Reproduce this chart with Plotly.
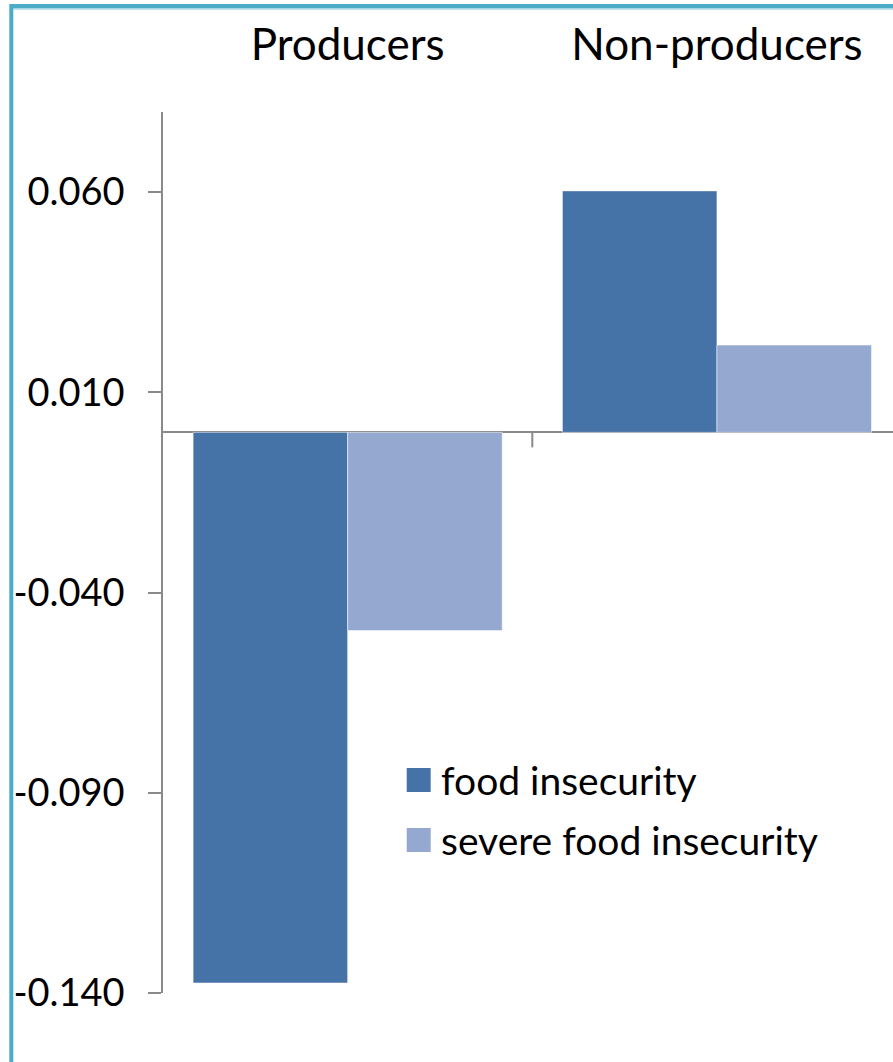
import plotly.graph_objects as go

# Chart data
groups = ["Producers", "Non-producers"]
food_insecurity = [-0.1375, 0.0603]
severe_food_insecurity = [-0.0495, 0.0218]
series_names = ["food insecurity", "severe food insecurity"]
y_tick_values = [-0.14, -0.09, -0.04, 0.01, 0.06]
y_tick_labels = ["-0.140", "-0.090", "-0.040", "0.010", "0.060"]

# Styling
DARK = "#4673A7"
LIGHT = "#95A9D0"
AXIS = "#8A8A8A"
FRAME = "#4BACC6"
FONT = "Lato"

W, H = 893, 1062
ML, MR, MT, MB = 163, 0, 112, 69
PW, PH = W - ML - MR, H - MT - MB


def px_x(px):
    return (px - ML) / PW


def px_y(py):
    return (H - MB - py) / PH


fig = go.Figure()
fig.add_trace(go.Bar(x=groups, y=food_insecurity, name=series_names[0],
                     marker=dict(color=DARK, line=dict(color="rgba(255,255,255,0.5)", width=1)),
                     showlegend=False))
fig.add_trace(go.Bar(x=groups, y=severe_food_insecurity, name=series_names[1],
                     marker=dict(color=LIGHT, line=dict(color="rgba(255,255,255,0.5)", width=1)),
                     showlegend=False))

shapes = []
# category divider tick below the zero line
shapes.append(dict(type="line", xref="x", yref="y", x0=0.5, x1=0.5,
                   ysizemode="pixel", yanchor=0, y0=0, y1=-15,
                   line=dict(color=AXIS, width=2)))
# outer frame (top and left edges)
shapes.append(dict(type="line", xref="paper", yref="paper",
                   x0=px_x(11.3), x1=px_x(W + 20), y0=px_y(6.3), y1=px_y(6.3),
                   line=dict(color=FRAME, width=4.5)))
shapes.append(dict(type="line", xref="paper", yref="paper",
                   x0=px_x(13.5), x1=px_x(W + 20), y0=px_y(9.5), y1=px_y(9.5),
                   line=dict(color="#BFE3EE", width=1.2)))
shapes.append(dict(type="line", xref="paper", yref="paper",
                   x0=px_x(11.3), x1=px_x(11.3), y0=px_y(4), y1=px_y(H + 20),
                   line=dict(color=FRAME, width=4)))

# legend keys
annotations = []
legend_rows = [(780, DARK), (840, LIGHT)]
for (cy, col), name in zip(legend_rows, series_names):
    shapes.append(dict(type="rect", xref="paper", yref="paper",
                       x0=px_x(406.7), x1=px_x(430.7), y0=px_y(cy - 12), y1=px_y(cy + 12),
                       fillcolor=col, line=dict(width=0)))
    annotations.append(dict(xref="paper", yref="paper", x=px_x(439), y=px_y(cy),
                            xanchor="left", yanchor="middle", showarrow=False,
                            text=name, font=dict(family=FONT, size=39, color="black")))

fig.update_layout(
    width=W, height=H,
    margin=dict(l=ML, r=MR, t=MT, b=MB, pad=0),
    paper_bgcolor="white", plot_bgcolor="white",
    barmode="group", bargap=0.163, bargroupgap=0,
    font=dict(family=FONT, color="black"),
    shapes=shapes, annotations=annotations,
    showlegend=False,
)
fig.update_xaxes(
    range=[-0.5, 1.5 - (ML + 369.3 * 2 - W) / 369.3],
    side="top", showline=False, showgrid=False, zeroline=False,
    ticks="", tickfont=dict(family=FONT, size=44, color="black"),
    ticklabelstandoff=42,
)
fig.update_yaxes(
    range=[-0.14, 0.08],
    tickvals=y_tick_values, ticktext=y_tick_labels,
    showgrid=False, showline=True, linecolor=AXIS, linewidth=1.5,
    ticks="outside", ticklen=13, tickcolor=AXIS, tickwidth=1.5,
    tickfont=dict(family=FONT, size=38, color="black"),
    ticklabelstandoff=16,
    zeroline=True, zerolinecolor=AXIS, zerolinewidth=2,
)

fig.write_html("out.html")
